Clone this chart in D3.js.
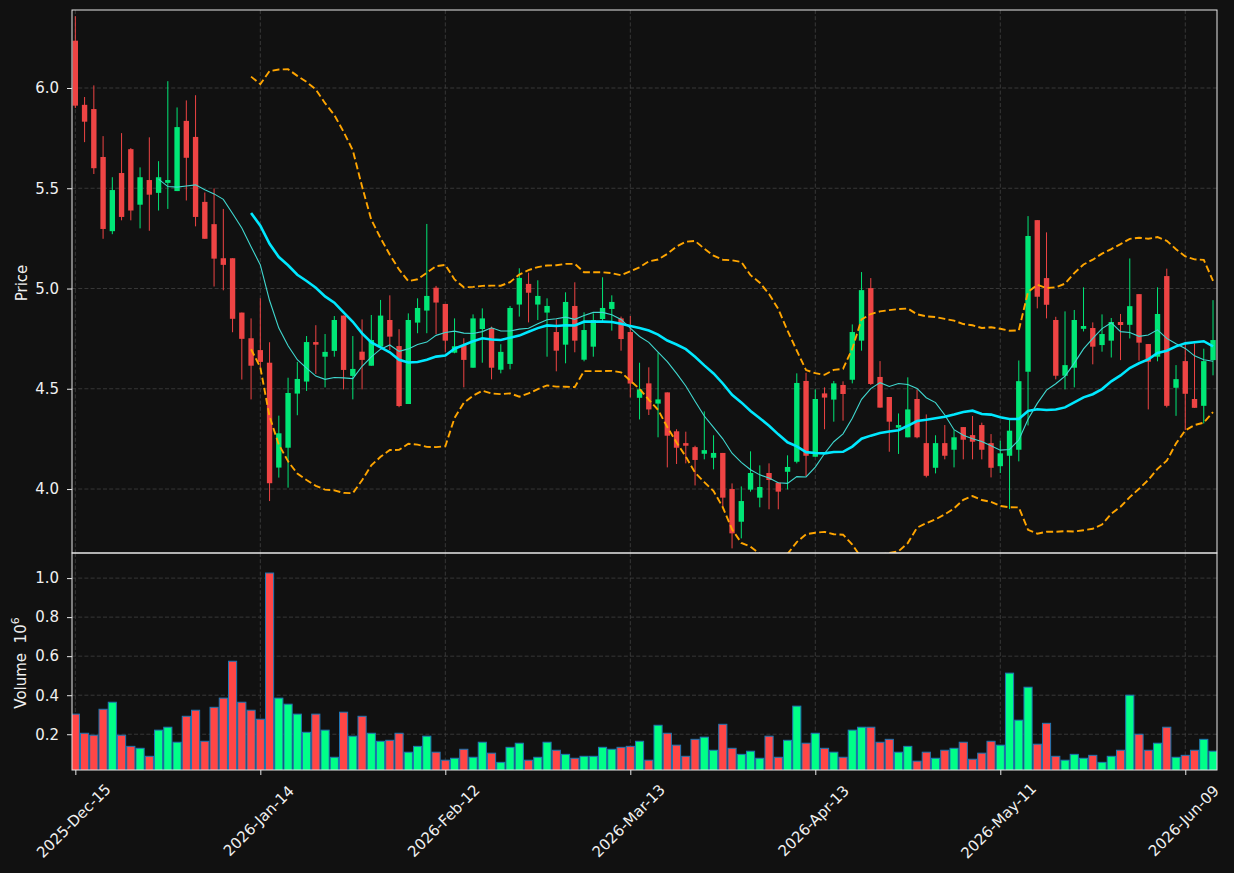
<!DOCTYPE html>
<html><head><meta charset="utf-8">
<script src="https://cdn.jsdelivr.net/npm/d3@7"></script>
<style>body{margin:0;background:#111111;} svg{display:block;font-family:"DejaVu Sans",sans-serif;}</style>
</head><body><svg id="chart" width="1234" height="873"></svg>
<script>
// ---------------- data ----------------
const tickDates = ["2025-Dec-15","2026-Jan-14","2026-Feb-12","2026-Mar-13","2026-Apr-13","2026-May-11","2026-Jun-09"];
const tickIndex = [0,20,40,60,80,100,120];
const priceTicks = [4.0,4.5,5.0,5.5,6.0];
const volumeTicks = [0.2,0.4,0.6,0.8,1.0];

const open = [6.236,5.916,5.895,5.656,5.286,5.576,5.695,5.418,5.541,5.477,
5.527,5.486,5.836,5.756,5.432,5.321,5.151,5.151,4.880,4.752,
4.693,4.630,4.107,4.206,4.476,4.536,4.733,4.660,4.689,4.865,
4.564,4.685,4.615,4.710,4.843,4.713,4.424,4.830,4.890,5.004,
4.923,4.680,4.717,4.605,4.798,4.803,4.595,4.624,4.920,5.023,
4.920,4.880,4.783,4.720,4.913,4.645,4.710,4.848,4.898,4.851,
4.783,4.455,4.527,4.426,4.482,4.288,4.229,4.209,4.176,4.156,
4.180,4.000,3.837,3.997,3.957,4.080,4.032,4.086,4.136,4.539,
4.161,4.477,4.446,4.519,4.545,4.740,5.002,4.559,4.459,4.306,
4.258,4.449,4.229,4.106,4.229,4.196,4.309,4.269,4.319,4.229,
4.114,4.166,4.196,4.585,5.341,5.052,4.843,4.565,4.605,4.799,
4.803,4.718,4.740,4.833,4.819,4.972,4.723,4.660,5.062,4.505,
4.638,4.449,4.415,4.643];
const high = [6.358,5.955,6.013,5.760,5.555,5.775,5.700,5.604,5.754,5.635,
6.034,5.903,5.938,5.964,5.479,5.499,5.397,5.151,4.880,4.851,
4.951,4.732,4.366,4.555,4.634,4.763,4.817,4.773,4.863,4.865,
4.763,4.846,4.868,4.943,4.966,4.797,4.876,4.951,5.322,5.013,
4.923,4.851,4.752,4.871,4.901,4.810,4.722,4.913,5.101,5.079,
5.041,4.951,4.846,4.981,5.031,4.881,4.876,5.056,4.966,4.860,
4.863,4.630,4.607,4.680,4.482,4.298,4.286,4.216,4.387,4.268,
4.180,4.028,4.013,4.188,4.118,4.128,4.032,4.168,4.577,4.580,
4.497,4.507,4.539,4.537,4.821,5.082,5.052,4.638,4.459,4.377,
4.557,4.497,4.372,4.268,4.319,4.294,4.309,4.364,4.331,4.274,
4.241,4.344,4.641,5.361,5.341,5.280,4.859,4.886,4.893,5.006,
4.831,4.871,4.853,4.873,5.150,4.972,4.723,5.006,5.099,4.618,
4.730,4.726,4.700,4.942];
const low = [5.900,5.730,5.571,5.248,5.271,5.340,5.340,5.300,5.288,5.389,
5.397,5.486,5.439,5.310,5.248,5.010,4.991,4.782,4.546,4.447,
4.600,3.940,4.057,4.007,4.368,4.489,4.574,4.507,4.660,4.497,
4.447,4.497,4.615,4.710,4.693,4.408,4.424,4.777,4.777,4.773,
4.684,4.677,4.507,4.605,4.630,4.547,4.577,4.597,4.860,4.831,
4.843,4.660,4.587,4.627,4.682,4.637,4.660,4.835,4.790,4.690,
4.457,4.347,4.369,4.258,4.108,4.125,4.128,4.018,4.148,4.098,
3.912,3.704,3.754,3.987,3.909,3.899,3.899,3.998,4.128,4.065,
4.161,4.298,4.336,4.341,4.527,4.690,4.519,4.406,4.186,4.175,
4.258,4.253,4.058,4.078,4.148,4.108,4.148,4.148,4.148,4.058,
4.080,3.900,4.138,4.317,4.901,4.851,4.547,4.497,4.507,4.786,
4.622,4.685,4.656,4.643,4.751,4.640,4.397,4.637,4.407,4.365,
4.294,4.405,4.327,4.567];
const close = [5.912,5.832,5.600,5.297,5.491,5.357,5.389,5.555,5.468,5.555,
5.541,5.805,5.652,5.357,5.248,5.149,5.118,4.849,4.749,4.615,
4.634,4.029,4.278,4.479,4.549,4.733,4.720,4.684,4.843,4.594,
4.599,4.644,4.743,4.865,4.760,4.414,4.843,4.903,4.963,4.930,
4.740,4.712,4.644,4.851,4.851,4.605,4.684,4.903,5.053,4.979,
4.963,4.913,4.690,4.933,4.740,4.793,4.843,4.903,4.933,4.748,
4.526,4.497,4.397,4.447,4.266,4.206,4.216,4.145,4.194,4.180,
3.957,3.779,3.940,4.080,4.010,4.045,3.987,4.110,4.529,4.166,
4.449,4.456,4.527,4.474,4.783,4.992,4.524,4.406,4.336,4.319,
4.397,4.258,4.066,4.229,4.166,4.258,4.246,4.236,4.196,4.106,
4.178,4.291,4.538,5.262,4.959,4.919,4.565,4.618,4.843,4.813,
4.710,4.773,4.833,4.818,4.912,4.730,4.635,4.873,4.415,4.548,
4.475,4.405,4.638,4.743];
// volume in millions (axis label: Volume 10^6)
const volume = [0.303,0.205,0.195,0.328,0.364,0.195,0.138,0.128,0.087,0.221,
0.236,0.159,0.292,0.323,0.164,0.338,0.385,0.574,0.364,0.323,
0.277,1.026,0.385,0.354,0.303,0.210,0.303,0.221,0.082,0.313,
0.190,0.292,0.205,0.164,0.169,0.205,0.108,0.138,0.190,0.108,
0.067,0.077,0.123,0.082,0.159,0.103,0.056,0.133,0.154,0.067,
0.082,0.159,0.118,0.097,0.077,0.087,0.087,0.133,0.123,0.133,
0.138,0.164,0.067,0.246,0.205,0.144,0.087,0.174,0.185,0.118,
0.251,0.128,0.097,0.113,0.077,0.190,0.082,0.169,0.344,0.154,
0.205,0.128,0.108,0.082,0.221,0.236,0.236,0.159,0.174,0.108,
0.138,0.062,0.108,0.077,0.118,0.128,0.159,0.072,0.103,0.164,
0.144,0.513,0.272,0.441,0.149,0.256,0.087,0.067,0.097,0.077,
0.092,0.056,0.087,0.118,0.400,0.200,0.118,0.154,0.236,0.082,
0.092,0.118,0.174,0.113];

// ---------------- layout ----------------
const W = 1234, H = 873;
const L = 72, R = 1217, PT = 10, PB = 553, VT = 553, VB = 770;
const BG = "#111111";
const UP = "#00e676", DOWN = "#ee4444";
const VUP = "#00ff88", VDOWN = "#ff4646";
const GRID = "#3c3c3c";
const FS = "15px";

const svg = d3.select("#chart");
svg.append("rect").attr("width", W).attr("height", H).attr("fill", BG);

const n = close.length;
const idx = d3.range(n);
const x = d3.scaleLinear().domain([-0.36, n - 0.57]).range([L, R]);
const step = x(1) - x(0);
const y = d3.scaleLinear().domain([3.681, 6.389]).range([PB, PT]);
const yv = d3.scaleLinear().domain([0.3 * d3.min(volume), 1.1 * d3.max(volume)]).range([VB, VT]);

const defs = svg.append("defs");
defs.append("clipPath").attr("id", "clipP").append("rect").attr("x", L).attr("y", PT).attr("width", R - L).attr("height", PB - PT);
defs.append("clipPath").attr("id", "clipV").append("rect").attr("x", L).attr("y", VT).attr("width", R - L).attr("height", VB - VT);

// ---------------- grids ----------------
const grid = svg.append("g").attr("stroke", GRID).attr("stroke-width", 0.9).attr("stroke-dasharray", "4,2.2").attr("fill", "none");
grid.selectAll(".hp").data(priceTicks).join("line")
  .attr("x1", L).attr("x2", R).attr("y1", d => y(d)).attr("y2", d => y(d));
grid.selectAll(".hv").data(volumeTicks).join("line").attr("class","hv")
  .attr("x1", L).attr("x2", R).attr("y1", d => yv(d)).attr("y2", d => yv(d));
grid.selectAll(".vp").data(tickIndex).join("line").attr("class","vp")
  .attr("x1", d => x(d)).attr("x2", d => x(d)).attr("y1", PT).attr("y2", PB);
grid.selectAll(".vv").data(tickIndex).join("line").attr("class","vv")
  .attr("x1", d => x(d)).attr("x2", d => x(d)).attr("y1", VT).attr("y2", VB);

// ---------------- candles ----------------
const pg = svg.append("g").attr("clip-path", "url(#clipP)");
const isUp = i => close[i] >= open[i];
pg.selectAll(".wick").data(idx).join("line")
  .attr("x1", i => x(i)).attr("x2", i => x(i))
  .attr("y1", i => y(high[i])).attr("y2", i => y(low[i]))
  .attr("stroke", i => isUp(i) ? UP : DOWN).attr("stroke-width", 1);
const bw = step * 0.58;
pg.selectAll(".body").data(idx).join("rect")
  .attr("x", i => x(i) - bw / 2).attr("width", bw)
  .attr("y", i => y(Math.max(open[i], close[i])))
  .attr("height", i => Math.max(1, Math.abs(y(open[i]) - y(close[i]))))
  .attr("fill", i => isUp(i) ? UP : DOWN);

// ---------------- indicators (derived from close) ----------------
function rollMean(arr, w) {
  return arr.map((_, i) => i < w - 1 ? null : d3.mean(arr.slice(i - w + 1, i + 1)));
}
function rollStd(arr, w) {
  return arr.map((_, i) => {
    if (i < w - 1) return null;
    const s = arr.slice(i - w + 1, i + 1), m = d3.mean(s);
    return Math.sqrt(d3.mean(s, v => (v - m) * (v - m)));
  });
}
const ma10 = rollMean(close, 10);
const ma20 = rollMean(close, 20);
const sd20 = rollStd(close, 20);
const bbUp = ma20.map((m, i) => m == null ? null : m + 2 * sd20[i]);
const bbLo = ma20.map((m, i) => m == null ? null : m - 2 * sd20[i]);

const line = d3.line().defined(d => d[1] != null).x(d => x(d[0])).y(d => y(d[1]));
const pairs = arr => arr.map((v, i) => [i, v]);
pg.append("path").datum(pairs(ma10)).attr("d", line).attr("fill", "none")
  .attr("stroke", "#40d8d0").attr("stroke-width", 1.1);
pg.append("path").datum(pairs(ma20)).attr("d", line).attr("fill", "none")
  .attr("stroke", "#00e8ff").attr("stroke-width", 2.6);
[bbUp, bbLo].forEach(b => {
  pg.append("path").datum(pairs(b)).attr("d", line).attr("fill", "none")
    .attr("stroke", "#ffa500").attr("stroke-width", 1.9).attr("stroke-dasharray", "7,3.3");
});

// ---------------- volume ----------------
const vg = svg.append("g").attr("clip-path", "url(#clipV)");
const vbw = step * 0.88;
vg.selectAll(".vol").data(idx).join("rect")
  .attr("x", i => x(i) - vbw / 2).attr("width", vbw)
  .attr("y", i => yv(volume[i])).attr("height", i => VB + 2 - yv(volume[i]))
  .attr("fill", i => isUp(i) ? VUP : VDOWN)
  .attr("stroke", "#1f77b4").attr("stroke-width", 1);

// ---------------- spines ----------------
svg.append("rect").attr("x", L).attr("y", PT).attr("width", R - L).attr("height", PB - PT)
  .attr("fill", "none").attr("stroke", "#e8e8e8").attr("stroke-width", 1);
svg.append("rect").attr("x", L).attr("y", VT).attr("width", R - L).attr("height", VB - VT)
  .attr("fill", "none").attr("stroke", "#e8e8e8").attr("stroke-width", 1);

// ---------------- axes ----------------
function styleAxis(g) {
  g.select(".domain").remove();
  g.selectAll(".tick line").attr("stroke", "#e8e8e8");
  g.selectAll(".tick text").attr("fill", "#f0f0f0").style("font-size", FS).style("font-family", "DejaVu Sans, sans-serif");
}
svg.append("g").attr("transform", `translate(${L},0)`)
  .call(d3.axisLeft(y).tickValues(priceTicks).tickFormat(d3.format(".1f")).tickSize(5).tickPadding(8))
  .call(styleAxis);
svg.append("g").attr("transform", `translate(${L},0)`)
  .call(d3.axisLeft(yv).tickValues(volumeTicks).tickFormat(d3.format(".1f")).tickSize(5).tickPadding(8))
  .call(styleAxis);
const xa = svg.append("g").attr("transform", `translate(0,${VB})`)
  .call(d3.axisBottom(x).tickValues(tickIndex).tickFormat((d, i) => tickDates[i]).tickSize(5))
  .call(styleAxis);
xa.selectAll(".tick text")
  .attr("text-anchor", "middle").attr("dy", null).attr("dominant-baseline", "central")
  .attr("x", -2).attr("y", 51).attr("transform", "rotate(-45,-2,51)");

// axis labels
svg.append("text").attr("transform", "translate(27,283) rotate(-90)")
  .attr("text-anchor", "middle").attr("fill", "#f0f0f0").style("font-size", FS).text("Price");
const vl = svg.append("text").attr("transform", "translate(25.5,663) rotate(-90)")
  .attr("text-anchor", "middle").attr("fill", "#f0f0f0").style("font-size", FS);
vl.append("tspan").text("Volume\u00a0\u00a010");
vl.append("tspan").attr("dy", -7).style("font-size", "11px").text("6");
</script></body></html>
